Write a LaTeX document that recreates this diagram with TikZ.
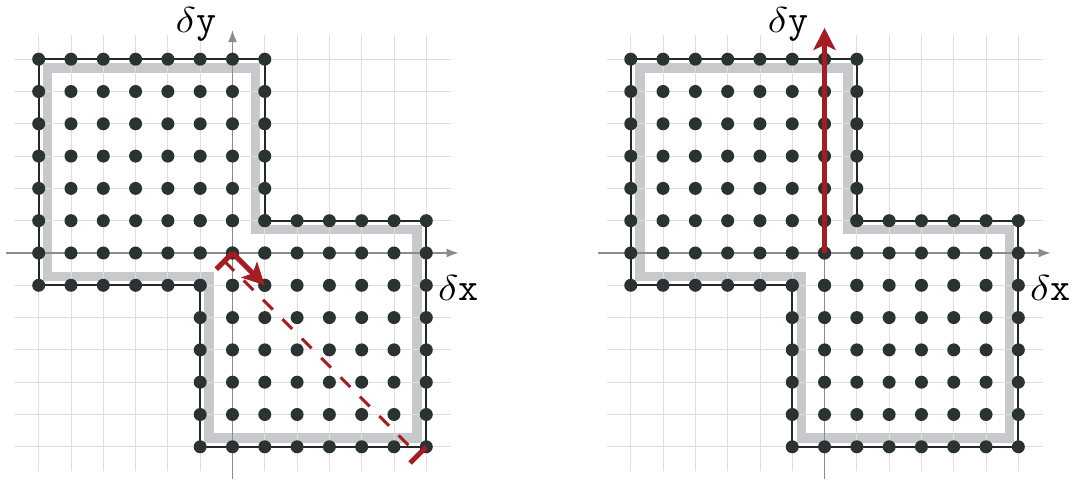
\RequirePackage{fix-cm}
\documentclass[tikz,border=0pt]{standalone}
\usetikzlibrary{arrows.meta}
\definecolor{dotc}{RGB}{43,50,50}
\definecolor{linec}{RGB}{38,40,40}
\definecolor{bandc}{RGB}{200,201,204}
\definecolor{gridc}{RGB}{224,224,218}
\definecolor{axisc}{RGB}{140,140,140}
\definecolor{redc}{RGB}{165,28,34}
\newcommand\dl{\scalebox{1.2}[1]{$\delta$}}
\tikzset{
  gridline/.style={gridc, line width=0.9pt},
  band/.style={bandc, line width=9.5pt, miter limit=10},
  outline/.style={linec, line width=1.8pt},
  axisline/.style={axisc, line width=1.3pt, -{Latex[length=12pt,width=9pt]}},
  redarrow/.style={redc, line width=5pt, -{Stealth[length=22pt,width=22pt,inset=5pt]}},
  redbar/.style={redc, line width=5pt},
  reddash/.style={redc, line width=3pt, dash pattern=on 13.7pt off 13.7pt},
  lbl/.style={inner sep=0pt, font=\fontsize{36}{40}\selectfont},
}
\newcommand\drawpanel{%
  % grey inset band
  \draw[band] (-5.72,5.72) -- (0.72,5.72) -- (0.72,0.72) -- (5.72,0.72) -- (5.72,-5.72)
     -- (-0.72,-5.72) -- (-0.72,-0.72) -- (-5.72,-0.72) -- cycle;
  % grid
  \foreach \k in {-6,...,6} {
    \draw[gridline] (\k,-6.75) -- (\k,6.75);
    \draw[gridline] (-6.75,\k) -- (6.75,\k);
  }
  % axes
  \draw[axisline] (-7,0) -- (7,0);
  \draw[axisline] (0,-7) -- (0,6.9);
  % outline
  \draw[outline] (-6,6) -- (1,6) -- (1,1) -- (6,1) -- (6,-6) -- (-1,-6) -- (-1,-1) -- (-6,-1) -- cycle;
  % dots
  \foreach \i in {-6,...,1} \foreach \j in {-1,...,6} \fill[dotc] (\i,\j) circle (6.5pt);
  \foreach \i in {-1,...,6} \foreach \j in {-6,...,1} \fill[dotc] (\i,\j) circle (6.5pt);
  % labels
  \node[lbl, anchor=base east] (ly\thepanelno) at (-0.5,6.84) {\dl{\fontsize{39}{42}\selectfont\ttfamily y}};
  \node[lbl, anchor=base west] (lx\thepanelno) at (6.36,-1.47) {\dl{\fontsize{39}{42}\selectfont\ttfamily x}};
}
\newcounter{panelno}
\begin{document}
\begin{tikzpicture}[x=32.3pt,y=32.3pt]
\useasboundingbox (-7.198,-7.059) rectangle (26.146,7.833);
% left panel
\begin{scope}
  \setcounter{panelno}{1}
  \drawpanel
  \coordinate (o1) at (0,0);
  \coordinate (t1) at (1,-1);
  \coordinate (b1) at (-0.5,-0.5);
  \coordinate (m1) at (-0.25,-0.25);
  \coordinate (e1) at (6,-6);
  \coordinate (f1) at (5.5,-6.5);
  \coordinate (n1) at (5.75,-6.25);
  \draw[reddash] (m1) -- (n1);
  \draw[redbar] (b1) -- (o1);
  \draw[redbar] (f1) -- (e1);
  \draw[redarrow] (o1) -- (t1);
\end{scope}
% right panel
\begin{scope}[shift={(18.33,0)}]
  \setcounter{panelno}{2}
  \drawpanel
  \coordinate (o2) at (0,0);
  \coordinate (t2) at (0,6.97);
  \draw[redarrow] (o2) -- (t2);
\end{scope}
\end{tikzpicture}
\end{document}
